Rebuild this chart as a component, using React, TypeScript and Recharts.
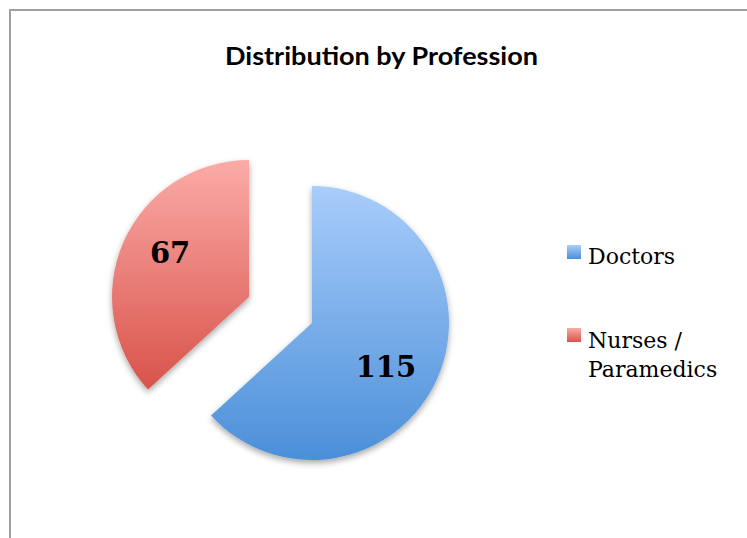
import React from "react";
import { PieChart, Pie, Cell, Legend } from "recharts";

const categories = ["Doctors", "Nurses / Paramedics"];
const values = [115, 67];
const legendLines = [["Doctors"], ["Nurses /", "Paramedics"]];
const title = "Distribution by Profession";

const data = categories.map((name, i) => ({ name, value: values[i] }));

const gradIds = ["gradBlue", "gradRed"];
const gradStops = [
  ["#a9cdfb", "#4b8fd8"],
  ["#fbaba7", "#d8534a"],
];

const RAD = Math.PI / 180;

const makeLabel = (which: number) => (props: any) => {
  const { cx, cy, midAngle, index, value } = props;
  if (index !== which) return null;
  const a = (midAngle - 7) * RAD;
  const r = 86;
  const x = cx + r * Math.cos(a) + (which === 1 ? -5 : 0);
  const y = cy - r * Math.sin(a);
  return (
    <text
      x={x}
      y={y}
      textAnchor="middle"
      dominantBaseline="central"
      fontFamily="'DejaVu Serif', serif"
      fontWeight="bold"
      fontSize={29}
      fill="#000"
    >
      {value}
    </text>
  );
};

const LegendContent = () => (
  <svg width={185} height={170} style={{ overflow: "visible" }}>
    {categories.map((c, i) => {
      const top = i === 0 ? 15 : 98;
      const base = i === 0 ? 34 : 118;
      return (
        <g key={c}>
          <rect x={7} y={top} width={14} height={14} fill={`url(#${gradIds[i]}L)`} />
          {legendLines[i].map((ln, j) => (
            <text
              key={ln}
              x={28}
              y={base + j * 29}
              fontFamily="'DejaVu Serif', serif"
              fontSize={22}
              fill="#000"
            >
              {ln}
            </text>
          ))}
        </g>
      );
    })}
  </svg>
);

export default function App() {
  return (
    <div style={{ position: "absolute", left: 0, top: 0, width: 747, height: 538, background: "#fff", overflow: "hidden" }}>
      <div
        style={{
          position: "absolute",
          left: 9,
          top: 9,
          width: 760,
          height: 560,
          borderLeft: "2px solid #a0a0a0",
          borderTop: "2px solid #a0a0a0",
        }}
      />
      <svg width={747} height={100} style={{ position: "absolute", left: 0, top: 0 }}>
        <text
          x={225}
          y={65}
          textLength={313}
          lengthAdjust="spacingAndGlyphs"
          fontFamily="Lato, 'Open Sans', sans-serif"
          fontWeight="bold"
          fontSize={25}
          fill="#000"
        >
          {title}
        </text>
      </svg>
      <div style={{ position: "absolute", left: 0, top: 0 }}>
        <PieChart width={747} height={538} margin={{ top: 0, right: 0, bottom: 0, left: 0 }}>
          <defs>
            {gradIds.map((id, i) => (
              <linearGradient key={id} id={id} x1="0" y1="0" x2="0" y2="1">
                <stop offset="0%" stopColor={gradStops[i][0]} />
                <stop offset="100%" stopColor={gradStops[i][1]} />
              </linearGradient>
            ))}
            {gradIds.map((id, i) => (
              <linearGradient key={id + "L"} id={id + "L"} x1="0" y1="0" x2="0" y2="1">
                <stop offset="0%" stopColor={gradStops[i][0]} />
                <stop offset="100%" stopColor={gradStops[i][1]} />
              </linearGradient>
            ))}
            <filter id="shadow" x="-20%" y="-20%" width="140%" height="140%">
              <feDropShadow dx="0" dy="3" stdDeviation="3" floodColor="#000" floodOpacity="0.35" />
            </filter>
          </defs>
          <Pie
            data={data}
            dataKey="value"
            nameKey="name"
            cx={312}
            cy={323}
            outerRadius={137}
            startAngle={90}
            endAngle={-270}
            stroke="none"
            label={makeLabel(0)}
            labelLine={false}
            isAnimationActive={false}
          >
            {data.map((d, i) => (
              <Cell
                key={d.name}
                fill={i === 0 ? `url(#${gradIds[0]})` : "transparent"}
                stroke="none"
                filter={i === 0 ? "url(#shadow)" : undefined}
              />
            ))}
          </Pie>
          <Pie
            data={data}
            dataKey="value"
            nameKey="name"
            cx={249}
            cy={297}
            outerRadius={137}
            startAngle={90}
            endAngle={-270}
            stroke="none"
            label={makeLabel(1)}
            labelLine={false}
            isAnimationActive={false}
          >
            {data.map((d, i) => (
              <Cell
                key={d.name}
                fill={i === 1 ? `url(#${gradIds[1]})` : "transparent"}
                stroke="none"
                filter={i === 1 ? "url(#shadow)" : undefined}
              />
            ))}
          </Pie>
          <Legend
            content={<LegendContent />}
            wrapperStyle={{ position: "absolute", left: 560, top: 230, width: 185, height: 170 }}
          />
        </PieChart>
      </div>
    </div>
  );
}
